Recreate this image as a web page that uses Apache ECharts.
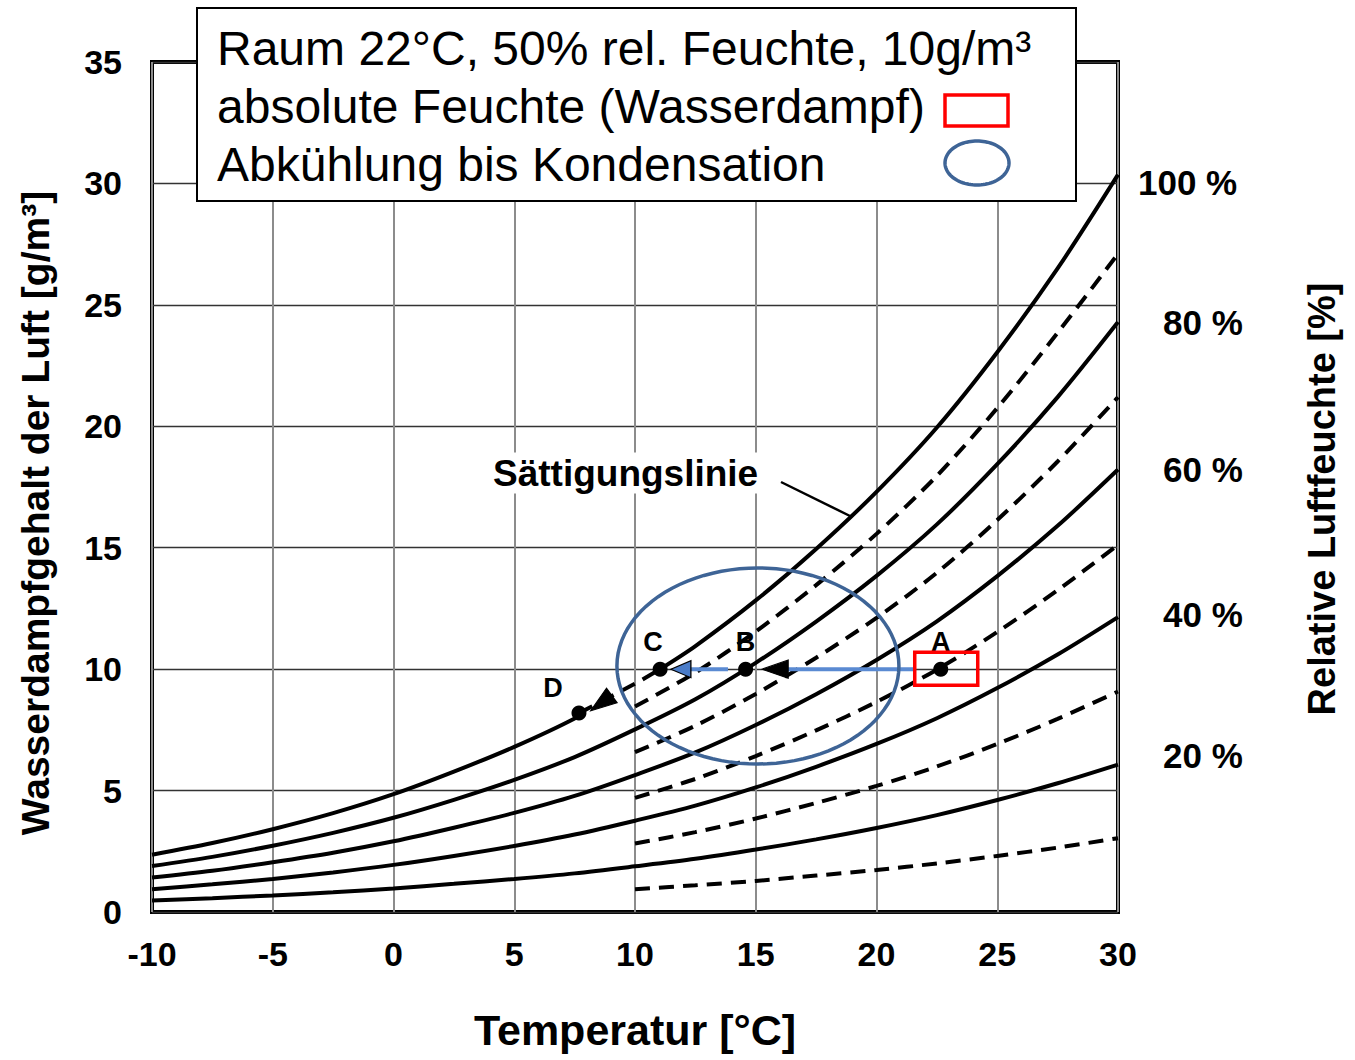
<!DOCTYPE html>
<html><head><meta charset="utf-8">
<script src="https://cdn.jsdelivr.net/npm/echarts@6/dist/echarts.min.js"></script>
<style>html,body{margin:0;padding:0;background:#fff;}#chart{width:1355px;height:1060px;}</style>
</head><body><div id="chart"></div>
<script>
// ---- data ----
const temps = [-10, -7.5, -5, -2.5, 0, 2.5, 5, 7.5, 10, 12.5, 15, 17.5, 20, 22.5, 25, 27.5, 30];
const rh100 = [2.36, 2.84, 3.41, 4.07, 4.85, 5.78, 6.80, 7.97, 9.40, 10.95, 12.83, 14.95, 17.30, 19.95, 23.05, 26.5, 30.36];
const rh80  = [1.89, 2.27, 2.73, 3.26, 3.88, 4.62, 5.44, 6.38, 7.52, 8.76, 10.26, 11.96, 13.84, 15.96, 18.44, 21.2, 24.29];
const rh60  = [1.42, 1.70, 2.05, 2.44, 2.91, 3.47, 4.08, 4.78, 5.64, 6.57, 7.70, 8.97, 10.38, 11.97, 13.83, 15.9, 18.22];
const rh40  = [0.94, 1.14, 1.36, 1.63, 1.94, 2.31, 2.72, 3.19, 3.76, 4.38, 5.13, 5.98, 6.92, 7.98, 9.22, 10.6, 12.14];
const rh20  = [0.47, 0.57, 0.68, 0.81, 0.97, 1.16, 1.36, 1.59, 1.88, 2.19, 2.57, 2.99, 3.46, 3.99, 4.61, 5.3, 6.07];
const dashTemps = [10, 12.5, 15, 17.5, 20, 22.5, 25, 27.5, 30];
const rh90 = [8.46, 9.86, 11.55, 13.46, 15.57, 17.96, 20.75, 23.85, 27.1];
const rh70 = [6.58, 7.67, 8.98, 10.47, 12.11, 13.97, 16.14, 18.55, 21.2];
const rh50 = [4.70, 5.48, 6.42, 7.48, 8.65, 9.98, 11.53, 13.25, 15.12];
const rh30 = [2.82, 3.29, 3.85, 4.49, 5.19, 5.99, 6.92, 7.95, 9.08];
const rh10 = [0.94, 1.10, 1.28, 1.50, 1.73, 2.00, 2.31, 2.65, 3.04];
const pointNames  = ['A', 'B', 'C', 'D'];
const pointTemps  = [22.66, 14.58, 11.04, 7.68];
const pointValues = [10.0, 10.0, 10.0, 8.19];
const xTicks = [-10, -5, 0, 5, 10, 15, 20, 25, 30];
const yTicks = [0, 5, 10, 15, 20, 25, 30, 35];
const rhLabels = ['100 %', '80 %', '60 %', '40 %', '20 %'];
// arrows (annotation): start/end temperatures at 10 g/m3
const arrowAB = [21.6, 15.6];
const arrowBC = [13.85, 12.0];
const arrowHeadTemps  = [15.8, 11.9, 8.6];
const arrowHeadValues = [10.0, 10.0, 8.6];
const legendLines = ['Raum 22°C, 50% rel. Feuchte, 10g/m³', 'absolute Feuchte (Wasserdampf)', 'Abkühlung bis Kondensation'];

// ---- styles ----
const FONT = '"Liberation Sans", Arial, Helvetica, sans-serif';
const pairs = (xs, ys) => xs.map((x, i) => [x, ys[i]]);
const labelOffsets = [[0, 0], [0, 0], [-7, 0], [-26, 2]];
const rhLabelOffsets = [[12, 8], [37, 0], [37, 0], [37, -3], [37, -9]];
const arrowHeadRot = [90, 90, 126];
const arrowHeadSize = [[18, 26], [17, 20], [18, 26]];
const arrowHeadColor = ['#000', '#4a7cc8', '#000'];

const chart = echarts.init(document.getElementById('chart'), null, {renderer: 'svg'});

function solid(data, lbl, off) {
  const s = {type: 'line', data: data, smooth: 0.3, showSymbol: false, silent: true,
    lineStyle: {color: '#000', width: 4}, z: 3};
  if (lbl) s.endLabel = {show: true, formatter: lbl, offset: off, color: '#000', fontSize: 35, fontWeight: 'bold', fontFamily: FONT};
  return s;
}
function dashed(data) {
  return {type: 'line', data: data, smooth: 0.3, showSymbol: false, silent: true,
    lineStyle: {color: '#000', width: 4, type: [15, 9], cap: 'butt'}, z: 3};
}

const satPairs = pairs(temps, rh100);
const Dp = [pointTemps[3], pointValues[3]];
const Cp = [pointTemps[2], pointValues[2]];
const seg1 = satPairs.filter(p => p[0] < Dp[0]).concat([Dp]);
const segDash = [Dp].concat(satPairs.filter(p => p[0] > Dp[0] && p[0] < Cp[0])).concat([Cp]);
const seg2 = [Cp].concat(satPairs.filter(p => p[0] > Cp[0]));

const series = [
  solid(seg1), dashed(segDash), solid(seg2, rhLabels[0], rhLabelOffsets[0]),
  solid(pairs(temps, rh80), rhLabels[1], rhLabelOffsets[1]),
  solid(pairs(temps, rh60), rhLabels[2], rhLabelOffsets[2]),
  solid(pairs(temps, rh40), rhLabels[3], rhLabelOffsets[3]),
  solid(pairs(temps, rh20), rhLabels[4], rhLabelOffsets[4]),
  dashed(pairs(dashTemps, rh90)), dashed(pairs(dashTemps, rh70)), dashed(pairs(dashTemps, rh50)),
  dashed(pairs(dashTemps, rh30)), dashed(pairs(dashTemps, rh10)),
  {type: 'line', data: [[arrowAB[0], 10], [arrowAB[1], 10]], showSymbol: false, silent: true,
    lineStyle: {color: '#5a8ad2', width: 4}, z: 5},
  {type: 'line', data: [[arrowBC[0], 10], [arrowBC[1], 10]], showSymbol: false, silent: true,
    lineStyle: {color: '#5a8ad2', width: 4}, z: 5},
  {type: 'scatter', silent: true, z: 6, symbol: 'triangle',
    data: arrowHeadTemps.map((t, i) => ({value: [t, arrowHeadValues[i]], symbolRotate: arrowHeadRot[i], symbolSize: arrowHeadSize[i],
      itemStyle: {color: arrowHeadColor[i], borderColor: '#000', borderWidth: 1.2, opacity: 1}}))},
  {type: 'scatter', silent: true, z: 7, symbolSize: 15, itemStyle: {color: '#000', opacity: 1},
    data: pointNames.map((n, i) => ({name: n, value: [pointTemps[i], pointValues[i]], label: {offset: labelOffsets[i]}})),
    label: {show: true, position: 'top', distance: 6, formatter: p => p.name, color: '#000', fontSize: 27, fontWeight: 'bold', fontFamily: FONT}}
];

chart.setOption({
  animation: false,
  backgroundColor: '#fff',
  grid: {left: 152, right: 237, top: 62, bottom: 148, show: true, borderColor: '#000', borderWidth: 4, backgroundColor: 'transparent'},
  xAxis: {type: 'value', min: xTicks[0], max: xTicks[xTicks.length - 1], interval: 5,
    axisLine: {show: false}, axisTick: {show: false},
    axisLabel: {color: '#000', fontSize: 34, fontWeight: 'bold', fontFamily: FONT, margin: 25},
    splitLine: {show: true, lineStyle: {color: '#8c8c8c', width: 2}},
    name: 'Temperatur [°C]', nameLocation: 'middle', nameGap: 96,
    nameTextStyle: {color: '#000', fontSize: 43, fontWeight: 'bold', fontFamily: FONT}},
  yAxis: [
    {type: 'value', min: yTicks[0], max: yTicks[yTicks.length - 1], interval: 5, position: 'left',
      axisLine: {show: false}, axisTick: {show: false},
      axisLabel: {color: '#000', fontSize: 34, fontWeight: 'bold', fontFamily: FONT, margin: 30},
      splitLine: {show: true, lineStyle: {color: '#333', width: 1.3}},
      name: 'Wasserdampfgehalt der Luft [g/m³]', nameLocation: 'middle', nameGap: 97,
      nameTextStyle: {color: '#000', fontSize: 39, fontWeight: 'bold', fontFamily: FONT, padding: [0, 52, 0, 0]}},
    {type: 'value', min: yTicks[0], max: yTicks[yTicks.length - 1], interval: 5, position: 'right',
      axisLine: {show: false}, axisTick: {show: false}, axisLabel: {show: false}, splitLine: {show: false},
      name: 'Relative Luftfeuchte [%]', nameLocation: 'middle', nameGap: 185,
      nameTextStyle: {color: '#000', fontSize: 38, fontWeight: 'bold', fontFamily: FONT, padding: [0, 24, 0, 0]}}
  ],
  series: series
});

function ellipsePts(cx, cy, rx, ry) {
  const pts = [];
  for (let k = 0; k < 96; k++) { const a = k / 96 * Math.PI * 2; pts.push([cx + rx * Math.cos(a), cy + ry * Math.sin(a)]); }
  return pts;
}
const pA = chart.convertToPixel({gridIndex: 0}, [pointTemps[0], pointValues[0]]);
const pE = chart.convertToPixel({gridIndex: 0}, [15.09, 10.13]);
const blueDark = '#3e6496';
chart.setOption({
  graphic: [
    {type: 'polygon', shape: {points: ellipsePts(pE[0], pE[1], 141, 98)}, style: {fill: 'none', stroke: blueDark, lineWidth: 3.5}, z: 20, silent: true},
    {type: 'rect', shape: {x: pA[0] - 26, y: pA[1] - 17, width: 63, height: 33}, style: {fill: 'none', stroke: '#ff0000', lineWidth: 3.5}, z: 20, silent: true},
    {type: 'text', x: 489, y: 473, style: {text: 'Sättigungslinie', font: 'bold 37px ' + FONT, fill: '#000', verticalAlign: 'middle', align: 'left', backgroundColor: '#fff', padding: [2, 4]}, z: 15, silent: true},
    {type: 'line', shape: {x1: 781, y1: 482, x2: 850, y2: 516}, style: {stroke: '#000', lineWidth: 2.5}, z: 15, silent: true},
    {type: 'rect', shape: {x: 197, y: 8, width: 879, height: 193}, style: {fill: '#fff', stroke: '#000', lineWidth: 2}, z: 30, silent: true},
    {type: 'text', x: 217, y: 48, style: {text: legendLines[0], font: '48px ' + FONT, fill: '#000', verticalAlign: 'middle'}, z: 31, silent: true},
    {type: 'text', x: 217, y: 106, style: {text: legendLines[1], font: '48px ' + FONT, fill: '#000', verticalAlign: 'middle'}, z: 31, silent: true},
    {type: 'text', x: 217, y: 164, style: {text: legendLines[2], font: '48px ' + FONT, fill: '#000', verticalAlign: 'middle'}, z: 31, silent: true},
    {type: 'rect', shape: {x: 945, y: 95, width: 63, height: 31}, style: {fill: 'none', stroke: '#ff0000', lineWidth: 3.5}, z: 31, silent: true},
    {type: 'polygon', shape: {points: ellipsePts(977, 163, 32, 22)}, style: {fill: 'none', stroke: blueDark, lineWidth: 3.5}, z: 31, silent: true}
  ]
});
</script></body></html>
